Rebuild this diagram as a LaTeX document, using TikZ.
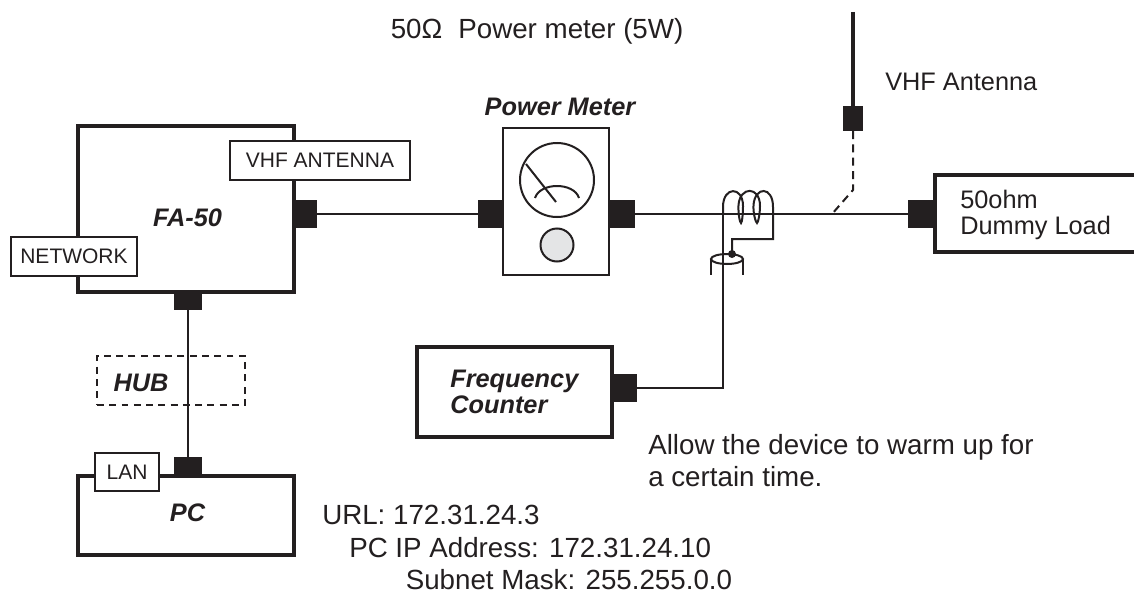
\documentclass[tikz,border=0pt]{standalone}
\usepackage{fontspec}
\setmainfont{Liberation Sans}
\definecolor{ink}{HTML}{231F20}
\definecolor{knob}{HTML}{E4E5E6}
\def\u{0.75pt}
\tikzset{
  heavybox/.style={draw=ink,line width=3pt,fill=white,inner sep=0pt,outer sep=0pt},
  thinbox/.style={draw=ink,line width=1.6pt,fill=white,inner sep=0pt,outer sep=0pt},
  tagbox/.style={draw=ink,line width=1.2pt,fill=white,text=ink,inner sep=0pt,outer sep=0pt,font=\fontsize{15.75}{18}\selectfont},
  plug/.style={fill=ink,inner sep=0pt,outer sep=0pt},
  title/.style={text=ink,inner sep=0pt,font=\fontsize{19}{20}\selectfont\bfseries\itshape,align=left},
  note/.style={text=ink,inner sep=0pt,anchor=base west,font=\fontsize{20.8}{24}\selectfont,align=left},
  smallnote/.style={note,font=\fontsize{19}{19.5}\selectfont},
  wire/.style={draw=ink,line width=1.5pt},
}
\begin{document}
\begin{tikzpicture}[x=\u,y=-\u,line join=miter]

\useasboundingbox (0,0) rectangle (1134,592);

% Hub
\node[draw=ink,line width=1.3pt,dash pattern=on 5.2pt off 4pt,inner sep=0pt,minimum width=148*\u,minimum height=49*\u] (hub) at (171,380.5) {};
\node[title] (hubname) at (141,383) {HUB};

% FA-50
\node[heavybox,minimum width=216*\u,minimum height=166*\u] (fa) at (186,208.5) {};
\node[title] (faname) at (187.5,218) {FA-50};
\node[tagbox,minimum width=180*\u,minimum height=39*\u] (vhftag) at (320,160.5) {VHF ANTENNA};
\node[tagbox,minimum width=126*\u,minimum height=39*\u] (nettag) at (74,256.5) {NETWORK};
\node[plug,minimum width=25*\u,minimum height=28*\u] (faout) at (304.5,214) {};
\node[plug,minimum width=28*\u,minimum height=18*\u] (falan) at (188,301) {};

% PC
\node[heavybox,minimum width=216*\u,minimum height=79*\u] (pc) at (186,515.5) {};
\node[title] (pcname) at (187.5,513) {PC};
\node[plug,minimum width=28*\u,minimum height=20*\u] (pclan) at (188,467) {};
\node[tagbox,minimum width=64*\u,minimum height=38*\u] (lantag) at (127,472) {LAN};

% Power meter
\node[title] (metername) at (560,107) {Power Meter};
\node[thinbox,minimum width=106*\u,minimum height=147*\u] (meter) at (556,201.5) {};
\node[plug,minimum width=25*\u,minimum height=28*\u] (meterin) at (490.5,214) {};
\node[plug,minimum width=26*\u,minimum height=28*\u] (meterout) at (622,214) {};
\draw[wire] (557,180) circle(37);
\draw[wire] (526,164)--(556,202);
\draw[wire] (535,198) .. controls (540,182) and (574,182) .. (579,198);
\draw[wire,fill=knob] (557,245) circle(16.5);

% Dummy load
\node[heavybox,minimum width=220*\u,minimum height=77*\u,anchor=west] (load) at (935,213) {};
\node[smallnote] (loadname) at (960,208) {50ohm};
\node[smallnote] (loadname2) at (960,234) {Dummy Load};
\node[plug,minimum width=27*\u,minimum height=28*\u] (loadin) at (921.5,214) {};

% Frequency counter
\node[heavybox,minimum width=195*\u,minimum height=90*\u] (counter) at (514.5,392) {};
\node[title,anchor=west] (countername) at (450,392) {Frequency\\Counter};
\node[plug,minimum width=25*\u,minimum height=28*\u] (counterout) at (624,388) {};

% Antenna
\node[plug,minimum width=20*\u,minimum height=25*\u] (ant) at (853,118.5) {};
\coordinate (anttop) at (853,12);
\coordinate (antbend) at (853,190);
\coordinate (anttap) at (832,214);
\draw[wire,line width=3pt] (anttop)--(ant);
\draw[wire,dash pattern=on 6pt off 4pt] (ant)--(antbend)--(anttap);

% Cables
\draw[wire] (faout)--(meterin);
\draw[wire] (meterout)--(loadin);
\draw[wire] (falan)--(pclan);
\coordinate (coilstart) at (723,214);
\draw[wire] (counterout) -| (coilstart);

% Coil
\draw[wire] (coilstart)--(723,207)
  .. controls (723,186) and (743,186) .. (743,206)
  .. controls (743,214) and (742,223) .. (741,223)
  .. controls (740,223) and (738,214) .. (738.5,205)
  .. controls (740,186) and (760,186) .. (760,206)
  .. controls (760,214) and (758,223) .. (757,223)
  .. controls (756,223) and (753,214) .. (753.5,205)
  .. controls (755,186) and (773,186) .. (773,207)
  --(773,239)--(732,239)--(732,254);

% Pickup
\draw[wire] (727,259) ellipse(16 and 5);
\draw[wire] (711,259)--(711,275);
\draw[wire] (743,259)--(743,275);
\fill[ink] (732,254) circle(4);

% Notes
\node[note] (powernote) at (390.5,39) {50Ω\hspace{0.3em} Power meter (5W)};
\node[smallnote] (antnote) at (885,90) {VHF Antenna};
\node[note] (warmnote) at (648,454) {Allow the device to warm up for};
\node[note] (warmnote2) at (648,486) {a certain time.};
\node[note] (urlnote) at (322,524) {URL: 172.31.24.3};
\node[note] (ipnote) at (349,557) {PC IP Address: 172.31.24.10};
\node[note] (masknote) at (405.5,589) {Subnet Mask: 255.255.0.0};

\end{tikzpicture}
\end{document}
